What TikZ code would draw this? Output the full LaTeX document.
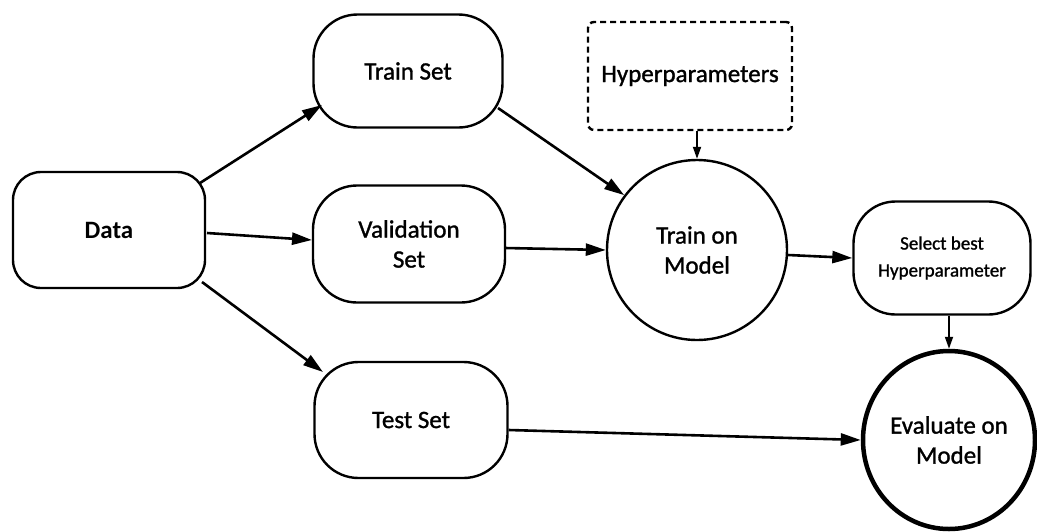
\documentclass[tikz,border=0pt]{standalone}
\usepackage{fontspec}
\setmainfont{Carlito}
\newfontfamily\semib{Carlito}[FakeBold=1.2]
\usetikzlibrary{arrows.meta,calc,shapes.geometric}
\begin{document}
\begin{tikzpicture}[x=1pt,y=-1pt,
  box/.style={draw,line width=2.4pt,rounded corners=#1,inner sep=0pt,align=center,
    font=\semib\fontsize{25}{30}\selectfont},
  box/.default=44pt,
  conn/.style={line width=2.6pt,-{Triangle[length=20pt,width=12pt]}},
  thinconn/.style={line width=1.8pt,-{Triangle[length=12pt,width=8pt]}}]
\useasboundingbox (0,0) rectangle (1037,531);
\fill[white] (0,0) rectangle (1037,531);

\node[box=28pt,minimum width=192pt,minimum height=116pt,font=\fontsize{25}{30}\selectfont\bfseries] (data) at (109,230) {Data};
\node[box,minimum width=189pt,minimum height=113pt] (train) at (408,71) {Train Set};
\node[box,minimum width=192pt,minimum height=117pt] (valid) at (409,244) {Validation\\Set};
\node[box,minimum width=193pt,minimum height=116pt] (test) at (411,420) {Test Set};
\node[box=6pt,dashed,dash pattern=on 6pt off 4pt,minimum width=204pt,minimum height=108pt] (hyper) at (690,76) {Hyperparameters};
\node[draw,circle,line width=2.4pt,minimum size=180pt,inner sep=0pt,align=center,
  font=\semib\fontsize{25}{30}\selectfont] (model) at (697,250) {Train on\\Model};
\node[box=42pt,minimum width=177pt,minimum height=113pt,font=\semib\fontsize{19}{27}\selectfont] (select) at (942,258) {Select best\\Hyperparameter};
\node[draw,ellipse,line width=4.5pt,minimum width=172pt,minimum height=178pt,inner sep=0pt,align=center,
  font=\semib\fontsize{25}{30}\selectfont] (eval) at (949,440) {Evaluate on\\Model};

\draw[conn] ($(data.center)+(91,-47)$) -- ($(train.center)+(-86,34)$);
\draw[conn] ($(data.center)+(98,3)$) -- ($(valid.center)+(-97,-4)$);
\draw[conn] ($(data.center)+(93,52)$) -- ($(test.center)+(-88,-48)$);
\draw[conn] ($(train.center)+(90,37)$) -- (model.143);
\draw[conn] ($(valid.center)+(96,4)$) -- (model.west);
\draw[thinconn] (hyper.south -| model.north) -- (model.north);
\draw[conn] ($(model.east)+(0,5)$) -- (select.west);
\draw[thinconn] (select.south -| eval.north) -- (eval.north);
\draw[conn] ($(test.east)+(0,10)$) -- (eval.west);
\end{tikzpicture}
\end{document}
